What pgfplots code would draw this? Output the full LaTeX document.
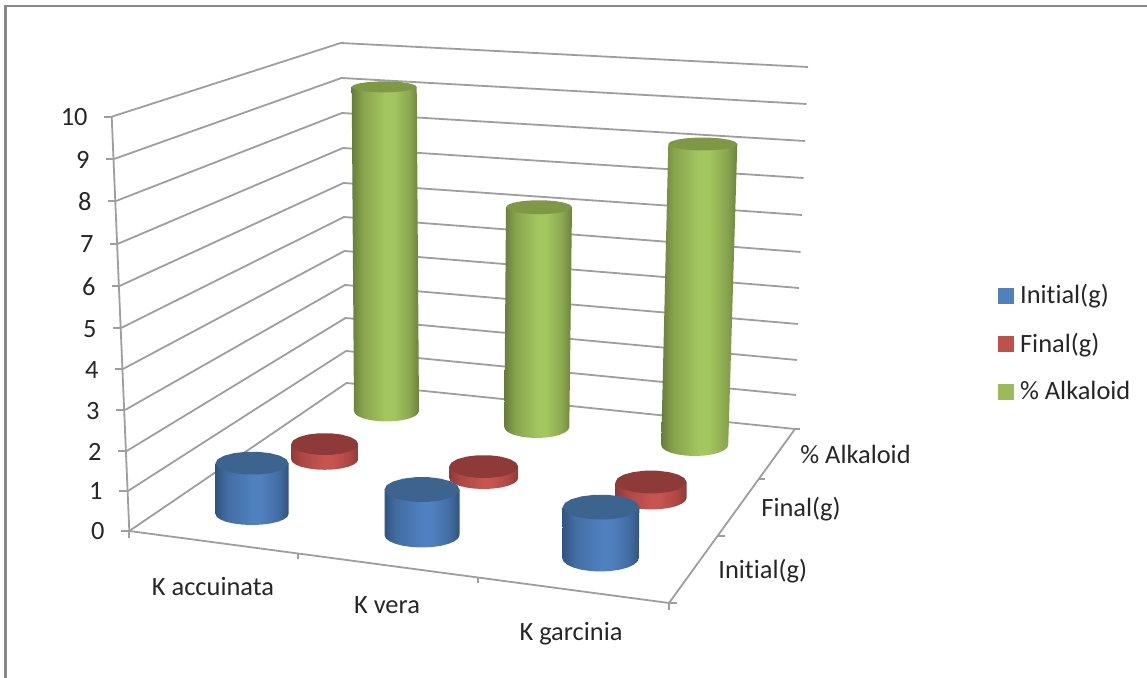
\documentclass[border=0pt]{standalone}
\usepackage{pgfplots}
\pgfplotsset{compat=1.18}
\usepackage{fontspec}
\setmainfont[Ligatures=CommonOff]{Carlito}

\definecolor{gridgray}{RGB}{158,158,158}
\definecolor{framegray}{RGB}{136,136,136}
\definecolor{textdark}{RGB}{38,38,38}
\definecolor{blueTop}{RGB}{61,99,143}
\definecolor{redTop}{RGB}{141,58,56}
\definecolor{greenTop}{RGB}{127,152,70}
\definecolor{blueFill}{RGB}{79,129,189}
\definecolor{redFill}{RGB}{192,80,77}
\definecolor{greenFill}{RGB}{155,187,89}

% Side shading of a cylinder: dark rims and a bright band just right of centre
\pgfdeclarehorizontalshading{blueSide}{100bp}{rgb(0bp)=(.19,.33,.50); rgb(25bp)=(.19,.33,.50); rgb(33bp)=(.26,.43,.64); rgb(50bp)=(.31,.50,.75); rgb(56bp)=(.31,.50,.75); rgb(68bp)=(.26,.43,.64); rgb(75bp)=(.19,.33,.50); rgb(100bp)=(.19,.33,.50)}
\pgfdeclarehorizontalshading{redSide}{100bp}{rgb(0bp)=(.56,.23,.22); rgb(25bp)=(.56,.23,.22); rgb(33bp)=(.68,.28,.27); rgb(50bp)=(.78,.33,.31); rgb(56bp)=(.78,.33,.31); rgb(68bp)=(.68,.28,.27); rgb(75bp)=(.56,.23,.22); rgb(100bp)=(.56,.23,.22)}
\pgfdeclarehorizontalshading{greenSide}{100bp}{rgb(0bp)=(.40,.49,.23); rgb(25bp)=(.40,.49,.23); rgb(33bp)=(.53,.64,.30); rgb(50bp)=(.64,.78,.37); rgb(56bp)=(.64,.78,.37); rgb(68bp)=(.54,.65,.31); rgb(75bp)=(.42,.51,.24); rgb(100bp)=(.42,.51,.24)}

% Polyline through an elliptical arc, appended to \cylpts
\newcommand\arcpoints[5]{%
  \foreach \t in {#5}{%
    \pgfmathsetmacro\px{#1+#3*cos(\t)}%
    \pgfmathsetmacro\py{#2+#4*sin(\t)}%
    \xdef\cylpts{\cylpts (\px,\py)}%
  }%
}
\newcommand\sideplot[2]{\addplot[draw=none,forget plot,shading=#2Side] coordinates {#1} --cycle;}
\newcommand\capplot[2]{\addplot[draw=none,forget plot,fill=#2Top] coordinates {#1} --cycle;}

% \cylinder{series}{base x,y}{base radii}{value}{pixels per unit}{top x}{top radii}
\def\cylinder#1#2#3#4#5#6#7{\cylinderparts{#1}#2;#3;{#4}{#5}{#6}#7;}
\def\cylinderparts#1#2,#3;#4,#5;#6#7#8#9,{\pgfmathsetmacro\cylty{#3-#6*#7}%
  \pgfmathsetmacro\pa{#8+#9}\pgfmathsetmacro\pb{#8-#9}%
  \gdef\cylpts{}%
  \arcpoints{#2}{#3}{#4}{#5}{180,165,...,0}%
  \xdef\cylpts{\cylpts (\pa,\cylty) (\pb,\cylty)}%
  \expandafter\sideplot\expandafter{\cylpts}{#1}%
  \def\cyltx{#8}\def\cyltrx{#9}\def\cylser{#1}\cylindercap}
\def\cylindercap#1;{%
  \gdef\cylpts{}%
  \arcpoints{\cyltx}{\cylty}{\cyltrx}{#1}{0,20,...,340}%
  \edef\cylcapcall{\noexpand\capplot{\cylpts}{\cylser}}\cylcapcall
}

\begin{document}
\begin{tikzpicture}
\useasboundingbox (0,0) rectangle (573.5pt,339pt);
\begin{axis}[
  at={(0,0)},anchor=south west,
  width=573.5pt,height=339pt,scale only axis,
  xmin=0,xmax=1147,ymin=0,ymax=678,y dir=reverse,
  hide axis,clip=false,
  legend style={at={(axis cs:997.3,280)},anchor=north west,draw=none,fill=none,
    font=\fontsize{13.2}{15}\selectfont,text=textdark,
    row sep=9.1pt,inner sep=0pt},
  legend cell align=left,
  legend image code/.code={\fill[#1,draw=none] (0pt,-4pt) rectangle (8pt,4pt);\path (9pt,0pt);},
  grid line/.style={draw=gridgray,line width=0.9pt,forget plot,mark=none},
  every axis plot/.append style={mark=none},
]
% Outer frame
\addplot[draw=framegray,line width=1.25pt,forget plot] coordinates {(5.3,678) (5.3,6.2) (1147,6.2)};

% Wall gridlines, from the value axis to the back corner and along the back wall
\addplot[grid line] coordinates {(129.3,531) (346.5,383) (795,429)};
\addplot[grid line] coordinates {(128,491) (346,351) (796,395)};
\addplot[grid line] coordinates {(126.7,451) (345.5,318) (797,360)};
\addplot[grid line] coordinates {(125,410) (345,285) (798,324)};
\addplot[grid line] coordinates {(123,369) (344.5,251) (799,288)};
\addplot[grid line] coordinates {(121,328) (344,217) (800.5,252)};
\addplot[grid line] coordinates {(119.5,286) (343.5,183) (802,215)};
\addplot[grid line] coordinates {(117.5,244) (343,148) (803.5,178)};
\addplot[grid line] coordinates {(116,201) (342,113) (805,141)};
\addplot[grid line] coordinates {(114,159) (341.5,78) (806.5,104)};
\addplot[grid line] coordinates {(111.7,116.7) (340.7,43) (808,67)};

% Value axis, floor edges and their ticks
\addplot[grid line] coordinates {(111.7,116.7) (129.3,531) (669,603) (795,429)};
\addplot[grid line] coordinates {(104,116.7) (111.7,116.7)};
\addplot[grid line] coordinates {(106,159) (114,159)};
\addplot[grid line] coordinates {(108,201) (116,201)};
\addplot[grid line] coordinates {(110,244) (117.5,244)};
\addplot[grid line] coordinates {(112,286) (119.5,286)};
\addplot[grid line] coordinates {(113,328) (121,328)};
\addplot[grid line] coordinates {(115,369) (123,369)};
\addplot[grid line] coordinates {(116,410) (125,410)};
\addplot[grid line] coordinates {(118,451) (126.7,451)};
\addplot[grid line] coordinates {(119,491) (128,491)};
\addplot[grid line] coordinates {(120.7,531) (129.3,531)};
\addplot[grid line] coordinates {(129.3,531) (129.3,538)};
\addplot[grid line] coordinates {(298.3,553.5) (298.3,559)};
\addplot[grid line] coordinates {(477.7,577.5) (477.7,583)};
\addplot[grid line] coordinates {(669,603) (669,610)};
\addplot[grid line] coordinates {(669,603) (677,603)};
\addplot[grid line] coordinates {(718,535.7) (725,535.7)};
\addplot[grid line] coordinates {(759,479) (765,479)};
\addplot[grid line] coordinates {(795,429) (799.5,429)};

% Back row first, so the nearer cylinders overlap it: % Alkaloid
\cylinder{green}{386.5,411}{32.5,10.5}{9.26}{35}{384.2}{32.5,5.5}
\cylinder{green}{536.8,427}{32.5,11}{6.28}{35}{539}{33,7}
\cylinder{green}{694.7,445}{33.5,11}{8.6}{35}{702.8}{34.5,6.5}
% Final(g)
\cylinder{red}{324.7,459.3}{33.5,10.5}{0.40}{38}{324.7}{33.5,11}
\cylinder{red}{483.7,478}{34.5,11}{0.30}{38}{483.7}{34.5,11.5}
\cylinder{red}{651,498}{35.5,11.5}{0.42}{38}{651}{35.5,11.5}
% Initial(g)
\cylinder{blue}{252,514}{36.5,11}{1.24}{41}{252}{36.5,11.5}
\cylinder{blue}{422,535}{37.5,12.5}{1.11}{41}{422}{37.5,12.5}
\cylinder{blue}{600.5,558}{38.3,13.5}{1.24}{41}{601}{38.3,12.5}

% Legend
\addlegendimage{fill=blueFill}\addlegendentry{Initial(g)}
\addlegendimage{fill=redFill}\addlegendentry{Final(g)}
\addlegendimage{fill=greenFill}\addlegendentry{\% Alkaloid}

% Labels
\begingroup
\def\lab#1#2#3#4{\node[anchor=#1,inner sep=0pt,text=textdark,font=\fontsize{13.2}{15}\selectfont] at (axis cs:#2,#3) {#4};}
\lab{east}{88}{117.5}{10}
\lab{east}{90}{160}{9}
\lab{east}{92}{202}{8}
\lab{east}{94}{244}{7}
\lab{east}{96}{287}{6}
\lab{east}{97}{329}{5}
\lab{east}{99}{370}{4}
\lab{east}{100}{411}{3}
\lab{east}{102}{452}{2}
\lab{east}{103}{491}{1}
\lab{east}{105}{531}{0}
\lab{center}{213}{587}{K accuinata}
\lab{center}{387}{605.5}{K vera}
\lab{center}{571}{633.5}{K garcinia}
\lab{west}{800}{454}{\% Alkaloid}
\lab{west}{761}{509}{Final(g)}
\lab{west}{718}{571.5}{Initial(g)}
\endgroup
\end{axis}
\end{tikzpicture}
\end{document}
